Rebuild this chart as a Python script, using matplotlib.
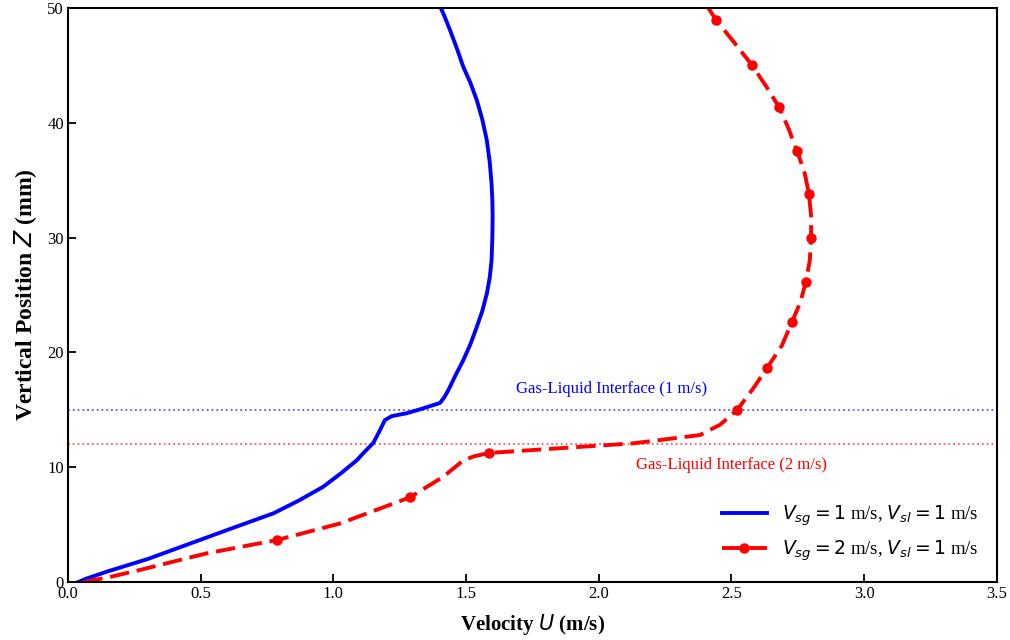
import numpy as np
import matplotlib
matplotlib.use('Agg')
import matplotlib.pyplot as plt

# velocity profiles (U in m/s, Z in mm)
blue_u = [0.039, 0.07, 0.146, 0.30, 0.497, 0.62, 0.774, 0.87, 0.962, 1.03, 1.088,
          1.12, 1.150, 1.175, 1.194, 1.22, 1.276, 1.326, 1.402, 1.418, 1.433, 1.46,
          1.489, 1.516, 1.540, 1.561, 1.578, 1.589, 1.596, 1.599, 1.600, 1.599,
          1.596, 1.589, 1.578, 1.561, 1.540, 1.516, 1.489, 1.465, 1.439, 1.42, 1.405]
blue_z = [0.0, 0.3, 0.9, 2.0, 3.66, 4.7, 5.98, 7.1, 8.3, 9.5, 10.6,
          11.4, 12.1, 13.2, 14.1, 14.45, 14.7, 15.04, 15.6, 16.1, 16.7, 18.0,
          19.3, 20.7, 22.2, 23.6, 25.1, 26.5, 28.0, 30.0, 31.8, 33.3,
          34.7, 36.6, 38.5, 40.3, 42.0, 43.5, 44.9, 46.5, 48.1, 49.2, 50.0]

red_u = [0.058, 0.16, 0.271, 0.523, 0.788, 1.025, 1.289, 1.414, 1.49, 1.53, 1.586,
         1.85, 2.13, 2.381, 2.457, 2.521, 2.58, 2.634, 2.69, 2.728, 2.76, 2.78,
         2.795, 2.80, 2.80, 2.792, 2.775, 2.747, 2.715, 2.679, 2.63, 2.577, 2.51,
         2.442, 2.413]
red_z = [0.0, 0.45, 1.05, 2.5, 3.66, 5.1, 7.38, 9.17, 10.6, 10.95, 11.24,
         11.65, 12.08, 12.8, 13.7, 14.98, 16.8, 18.64, 20.6, 22.65, 24.4, 26.13,
         28.0, 29.97, 31.9, 33.8, 35.7, 37.54, 39.5, 41.38, 43.2, 45.03, 47.0,
         48.95, 50.0]
red_marks = [4, 6, 10, 15, 17, 19, 21, 23, 25, 27, 29, 31, 33]

interface_1 = 15.0
interface_2 = 12.0

plt.rcParams['font.family'] = ['Liberation Serif', 'DejaVu Serif']
plt.rcParams['mathtext.fontset'] = 'dejavusans'

fig = plt.figure(figsize=(10.1, 6.4), dpi=100)
ax = fig.add_axes([0.0673, 0.0906, 0.9197, 0.8969])

ax.axhline(interface_1, color='#5a5aff', ls=':', lw=1.3)
ax.axhline(interface_2, color='#ff5a5a', ls=':', lw=1.3)

ax.plot(blue_u, blue_z, color='blue', lw=2.8, solid_joinstyle='round',
        label=r'$V_{sg}=1$ m/s, $V_{sl}=1$ m/s')
ax.plot(red_u, red_z, color='red', lw=2.8, dashes=(5, 2), marker='o', ms=6.5,
        markevery=red_marks, label=r'$V_{sg}=2$ m/s, $V_{sl}=1$ m/s')

ax.text(2.05, 16.8, 'Gas-Liquid Interface (1 m/s)', color='blue', fontsize=12,
        ha='center', va='center')
ax.text(2.5, 10.2, 'Gas-Liquid Interface (2 m/s)', color='red', fontsize=12,
        ha='center', va='center')

ax.set_xlim(0, 3.5)
ax.set_ylim(0, 50)
ax.set_xticks(np.arange(0, 3.51, 0.5))
ax.set_yticks(np.arange(0, 51, 10))
ax.tick_params(direction='in', length=6, width=1.3, labelsize=12, pad=3)
for s in ax.spines.values():
    s.set_linewidth(1.5)

ax.set_xlabel(r'Velocity $U$ (m/s)', fontsize=15, fontweight='bold', labelpad=7)
ax.set_ylabel(r'Vertical Position $Z$ (mm)', fontsize=17, fontweight='bold', labelpad=6)

ax.legend(loc='lower right', frameon=False, fontsize=13.5, handlelength=2.4,
          borderaxespad=0.6, labelspacing=0.6)

fig.savefig('out.png', dpi=100)
